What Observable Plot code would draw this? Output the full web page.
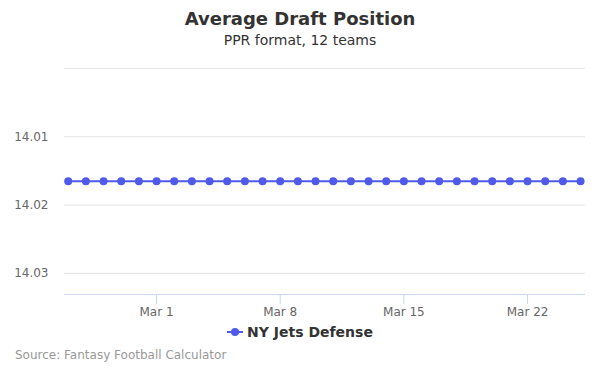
<!DOCTYPE html>
<html>
<head>
<meta charset="utf-8">
<script src="https://cdn.jsdelivr.net/npm/d3@7"></script>
<script src="https://cdn.jsdelivr.net/npm/@observablehq/plot@0.6"></script>
<style>
  body { margin: 0; background: #fff; font-family: "DejaVu Sans", sans-serif; }
  #wrap { position: relative; width: 600px; height: 375px; overflow: hidden; }
  #wrap > svg { position: absolute; left: 0; top: 0; }
  .t { position: absolute; white-space: nowrap; }
</style>
</head>
<body>
<div id="wrap">
  <div class="t" style="left:0;width:600px;top:8px;text-align:center;font-size:18px;font-weight:bold;color:#333;">Average Draft Position</div>
  <div class="t" style="left:0;width:600px;top:32px;text-align:center;font-size:14px;color:#333;">PPR format, 12 teams</div>
  <div class="t" id="legend" style="left:0;width:600px;top:323px;text-align:center;font-size:14px;font-weight:bold;color:#333;">
    <svg width="16" height="10" style="vertical-align:middle;margin-right:4px;"><line x1="0" x2="16" y1="5" y2="5" stroke="#4f5be8" stroke-width="2"/><circle cx="8" cy="5" r="4" fill="#4f5be8"/></svg><span style="vertical-align:middle;">NY Jets Defense</span>
  </div>
  <div class="t" style="left:15px;top:348px;font-size:12px;color:#999;">Source: Fantasy Football Calculator</div>
</div>
<script>
const seriesName = "NY Jets Defense";
const dates = [
  "2019-02-24","2019-02-25","2019-02-26","2019-02-27","2019-02-28",
  "2019-03-01","2019-03-02","2019-03-03","2019-03-04","2019-03-05",
  "2019-03-06","2019-03-07","2019-03-08","2019-03-09","2019-03-10",
  "2019-03-11","2019-03-12","2019-03-13","2019-03-14","2019-03-15",
  "2019-03-16","2019-03-17","2019-03-18","2019-03-19","2019-03-20",
  "2019-03-21","2019-03-22","2019-03-23","2019-03-24","2019-03-25"
];
const adp = [
  14.0165,14.0165,14.0165,14.0165,14.0165,
  14.0165,14.0165,14.0165,14.0165,14.0165,
  14.0165,14.0165,14.0165,14.0165,14.0165,
  14.0165,14.0165,14.0165,14.0165,14.0165,
  14.0165,14.0165,14.0165,14.0165,14.0165,
  14.0165,14.0165,14.0165,14.0165,14.0165
];
const yTicks = [14.01, 14.02, 14.03];
const yGrid = [14.00, 14.01, 14.02, 14.03];
const xTickLabels = ["2019-03-01","2019-03-08","2019-03-15","2019-03-22"];

const data = dates.map((d, i) => ({date: new Date(d + "T00:00:00Z"), adp: adp[i]}));
const day = 864e5;
const xDomain = [new Date(data[0].date - 0.21 * day), new Date(+data[data.length - 1].date + 0.28 * day)];
const xTicks = xTickLabels.map(d => new Date(d + "T00:00:00Z"));
const fmt = d3.utcFormat("%b %-d");
const blue = "#4f5be8";

const chart = Plot.plot({
  width: 600,
  height: 375,
  marginTop: 68,
  marginBottom: 81,
  marginLeft: 64,
  marginRight: 15,
  style: {fontFamily: "DejaVu Sans, sans-serif", fontSize: "12px", background: "transparent"},
  x: {type: "utc", domain: xDomain},
  y: {domain: [14.0, 14.0331], reverse: true},
  marks: [
    Plot.gridY(yGrid, {stroke: "#e6e6e6", strokeOpacity: 1, strokeWidth: 1}),
    Plot.ruleY([14.0331], {stroke: "#ccd6eb", strokeWidth: 1}),
    Plot.axisX({ticks: xTicks, tickFormat: fmt, tickSize: 10, stroke: "#ccd6eb", strokeOpacity: 1, fill: "#666", tickPadding: 3, fontSize: 12, label: null}),
    Plot.axisY({ticks: yTicks, tickFormat: d3.format(".2f"), tickSize: 0, tickPadding: 16, fill: "#666", fontSize: 12, label: null}),
    Plot.line(data, {x: "date", y: "adp", stroke: blue, strokeWidth: 2}),
    Plot.dot(data, {x: "date", y: "adp", fill: blue, r: 4, stroke: "none"})
  ]
});
document.getElementById("wrap").prepend(chart);
</script>
</body>
</html>
